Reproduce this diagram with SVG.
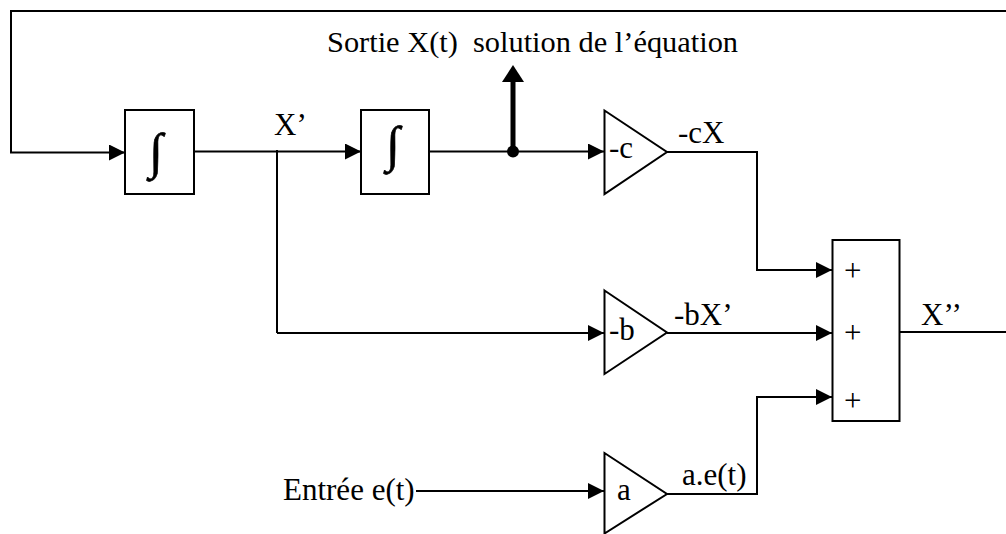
<svg xmlns="http://www.w3.org/2000/svg" width="1006" height="534" viewBox="0 0 1006 534">
<style>
text{font-family:"Liberation Serif","Times New Roman",serif;font-size:31px;fill:#000;white-space:pre}
.i{font-size:50px;stroke:#000;stroke-width:.6}
.s{fill:#fff;stroke:#000;stroke-width:2}
.c{fill:none;stroke:#000;stroke-width:2}
.a{marker-end:url(#ah)}
</style>
<defs>
<marker id="ah" markerUnits="userSpaceOnUse" markerWidth="16" markerHeight="16" refX="16" refY="8" orient="auto"><path d="M0 0L16 8L0 16Z" fill="#000"/></marker>
</defs>
<rect width="1006" height="534" fill="#fff"/>
<g id="connectors">
<path class="c a" d="M1006 11H11V152.500H125"/>
<path class="c a" d="M194 151.500H361"/>
<path class="c a" d="M429 151.500H604"/>
<path class="c" d="M277 150V333"/>
<path class="c a" d="M277 333H604"/>
<path class="c" d="M667 152H757V270"/>
<path class="c a" d="M756 270H832"/>
<path class="c a" d="M667 333H832"/>
<path class="c a" d="M667 494H757V397H832"/>
<path class="c a" d="M416 491H604"/>
<path class="c" d="M899 332H1006"/>
<path d="M513 152V82" fill="none" stroke="#000" stroke-width="5"/>
<path d="M513 65L524 82H502Z" fill="#000"/>
<circle cx="513" cy="151.500" r="6" fill="#000"/>
</g>
<g id="int1"><rect class="s" x="125" y="110" width="69" height="84"/><text class="i" x="149" y="168">∫</text></g>
<g id="int2"><rect class="s" x="361" y="110" width="68" height="84"/><text class="i" x="386" y="161">∫</text></g>
<g id="gain-c"><path class="s" d="M604.500 110.500L667 152L604.500 194Z"/><text x="609" y="158">-c</text></g>
<g id="gain-b"><path class="s" d="M604.500 290.500L667 332.500L604.500 374Z"/><text x="609" y="340">-b</text></g>
<g id="gain-a"><path class="s" d="M604.500 453L667 494L604.500 533.500Z"/><text x="617" y="500">a</text></g>
<g id="sum"><rect class="s" x="832.500" y="240" width="67" height="181"/><text x="844" y="280.500">+</text><text x="844" y="343">+</text><text x="844" y="410.500">+</text></g>
<g id="labels">
<text x="327" y="52" xml:space="preserve" style="font-size:30.400px">Sortie X(t)  solution de l’équation</text>
<text x="274" y="135">X’</text>
<text x="678" y="143">-cX</text>
<text x="674" y="325">-bX’</text>
<text x="921" y="325">X’’</text>
<text x="283" y="500">Entrée e(t)</text>
<text x="682" y="485">a.e(t)</text>
</g>
</svg>
